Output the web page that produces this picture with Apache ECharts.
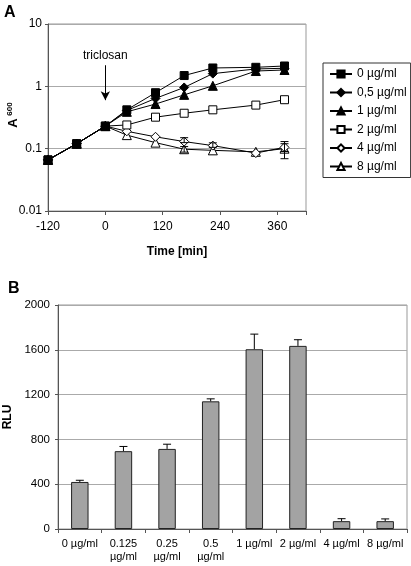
<!DOCTYPE html>
<html>
<head>
<meta charset="utf-8">
<script src="https://cdn.jsdelivr.net/npm/echarts@6/dist/echarts.min.js"></script>
<style>
html,body{margin:0;padding:0;background:#fff;}
#c{width:411px;height:566px;}
</style>
</head>
<body>
<div id="c"></div>
<script>
// ---- Panel A data ----
var times = [-120, -60, 0, 45, 105, 165, 225, 315, 375];
var c0  = [0.066, 0.12, 0.23, 0.42, 0.79, 1.49, 1.97, 2.02, 2.12];
var c05 = [0.066, 0.12, 0.23, 0.41, 0.64, 0.96, 1.60, 1.90, 1.95];
var c1  = [0.066, 0.12, 0.23, 0.39, 0.52, 0.73, 1.02, 1.76, 1.83];
var c2  = [0.066, 0.12, 0.23, 0.24, 0.32, 0.37, 0.42, 0.50, 0.61];
var c4  = [0.066, 0.12, 0.23, 0.19, 0.155, 0.13, 0.112, 0.085, 0.105];
var c8  = [0.066, 0.12, 0.23, 0.165, 0.125, 0.098, 0.094, 0.089, 0.100];
var seriesNamesA = ['0 µg/ml', '0,5 µg/ml', '1 µg/ml', '2 µg/ml', '4 µg/ml', '8 µg/ml'];
// error bars: [time, low, high]
var errA = [[165, 0.125, 0.15], [165, 0.088, 0.108], [225, 0.105, 0.124], [375, 0.069, 0.13], [375, 0.09, 0.12]];
var xTicksA = [-120, 0, 120, 240, 360];
var arrowFromTo = [2.18, 0.6];

// ---- Panel B data ----
var catsB = ['0 µg/ml', '0.125\nµg/ml', '0.25\nµg/ml', '0.5\nµg/ml', '1 µg/ml', '2 µg/ml', '4 µg/ml', '8 µg/ml'];
var rlu = [420, 695, 715, 1140, 1605, 1635, 70, 70];
var rluErr = [15, 42, 42, 22, 135, 55, 22, 20];

var FONT = '"Liberation Sans", Arial, sans-serif';

function pairs(ys){ return times.map(function(t,i){ return [t, ys[i]]; }); }

var markerDefs = [
  {sym:'rect', size:8, fill:'#000'},
  {sym:'diamond', size:9, fill:'#000'},
  {sym:'triangle', size:9, fill:'#000'},
  {sym:'rect', size:8, fill:'#fff'},
  {sym:'diamond', size:9, fill:'#fff'},
  {sym:'triangle', size:9, fill:'#fff'}
];
var dataA = [c0, c05, c1, c2, c4, c8];

var lineSeries = dataA.map(function(ys, k){
  var m = markerDefs[k];
  var s = {
    name: seriesNamesA[k],
    type: 'line',
    xAxisIndex: 0, yAxisIndex: 0,
    data: pairs(ys),
    symbol: m.sym,
    symbolSize: m.size,
    showAllSymbol: true,
    lineStyle: {color:'#000', width:1},
    itemStyle: {color: m.fill, borderColor:'#000', borderWidth:1},
    emphasis: {disabled:true},
    z: 3 + (5-k),
    animation: false
  };
  if (k === 0) {
    s.markLine = {
      silent: true,
      symbol: ['none', 'arrow'],
      symbolSize: [7, 9],
      lineStyle: {color:'#000', width:1, type:'solid'},
      label: {show:true, position:'start', formatter:'triclosan', color:'#000', fontSize:12, fontFamily:FONT, distance:4},
      data: [[{coord:[0, arrowFromTo[0]]}, {coord:[0, arrowFromTo[1]]}]],
      animation: false
    };
  }
  return s;
});

var errSeriesA = {
  type: 'custom', xAxisIndex:0, yAxisIndex:0, silent:true, z:10,
  data: errA,
  renderItem: function(params, api){
    var lo = api.coord([api.value(0), api.value(1)]);
    var hi = api.coord([api.value(0), api.value(2)]);
    var w = 4;
    var st = {stroke:'#000', lineWidth:1};
    return {type:'group', children:[
      {type:'line', shape:{x1:lo[0], y1:lo[1], x2:hi[0], y2:hi[1]}, style:st},
      {type:'line', shape:{x1:lo[0]-w, y1:lo[1], x2:lo[0]+w, y2:lo[1]}, style:st},
      {type:'line', shape:{x1:hi[0]-w, y1:hi[1], x2:hi[0]+w, y2:hi[1]}, style:st}
    ]};
  },
  animation:false
};

var errSeriesB = {
  type: 'custom', xAxisIndex:1, yAxisIndex:1, silent:true, z:10,
  data: rlu.map(function(v,i){ return [i, v, v + rluErr[i]]; }),
  renderItem: function(params, api){
    var lo = api.coord([api.value(0), api.value(1)]);
    var hi = api.coord([api.value(0), api.value(2)]);
    var w = 4;
    var st = {stroke:'#000', lineWidth:1};
    return {type:'group', children:[
      {type:'line', shape:{x1:lo[0], y1:lo[1], x2:hi[0], y2:hi[1]}, style:st},
      {type:'line', shape:{x1:hi[0]-w, y1:hi[1], x2:hi[0]+w, y2:hi[1]}, style:st}
    ]};
  },
  animation:false
};

var chart = echarts.init(document.getElementById('c'), null, {renderer:'canvas'});
chart.setOption({
  animation: false,
  backgroundColor: '#fff',
  textStyle: {fontFamily: FONT, color:'#000'},
  graphic: [
    {type:'text', left:4, top:5, style:{text:'A', font:'bold 16px ' + FONT, fill:'#000'}},
    {type:'text', left:8, top:281, style:{text:'B', font:'bold 16px ' + FONT, fill:'#000'}},
    {type:'text', x:13, y:123, rotation:Math.PI/2,
      style:{text:'A', font:'bold 13px ' + FONT, fill:'#000', align:'center', verticalAlign:'middle'}},
    {type:'text', x:10, y:109, rotation:Math.PI/2,
      style:{text:'600', font:'bold 8px ' + FONT, fill:'#000', align:'center', verticalAlign:'middle'}}
  ],
  legend: {
    orient: 'vertical',
    left: 323, top: 63,
    width: 84,
    padding: [4, 4, 4, 6],
    borderColor: '#333', borderWidth: 1,
    itemWidth: 22, itemHeight: 9, itemGap: 4.5,
    textStyle: {fontSize:12, fontFamily:FONT, color:'#000', lineHeight:14, padding:[0,0,0,0]},
    data: seriesNamesA,
    selectedMode: false
  },
  grid: [
    {left:48, top:24, width:258, height:187, show:true, borderColor:'#999', borderWidth:1, backgroundColor:'transparent', containLabel:false, outerBoundsMode:'none'},
    {left:58, top:305, width:349, height:224, show:true, borderColor:'#999', borderWidth:1, backgroundColor:'transparent', containLabel:false, outerBoundsMode:'none'}
  ],
  xAxis: [
    {
      type:'value', gridIndex:0, min:-120, max:420, interval:120,
      axisLine:{show:true, onZero:false, lineStyle:{color:'#555'}},
      axisTick:{show:true, length:4, inside:false, lineStyle:{color:'#555'}},
      axisLabel:{fontSize:12, color:'#000', margin:10, fontFamily:FONT,
        formatter:function(v){ return xTicksA.indexOf(v) >= 0 ? String(v) : ''; }},
      splitLine:{show:false},
      name:'Time [min]', nameLocation:'middle', nameGap:35,
      nameTextStyle:{fontSize:12, fontWeight:'bold', color:'#000', fontFamily:FONT}
    },
    {
      type:'category', gridIndex:1, data:catsB,
      axisLine:{show:true, onZero:false, lineStyle:{color:'#555'}},
      axisTick:{show:true, length:4, lineStyle:{color:'#555'}},
      axisLabel:{fontSize:11, color:'#000', margin:8, lineHeight:13, interval:0, fontFamily:FONT},
      splitLine:{show:false}
    }
  ],
  yAxis: [
    {
      type:'log', gridIndex:0, min:0.01, max:10, logBase:10,
      axisLine:{show:true, onZero:false, lineStyle:{color:'#555'}},
      axisTick:{show:true, length:3, lineStyle:{color:'#555'}},
      axisLabel:{fontSize:12, color:'#000', margin:6, fontFamily:FONT,
        formatter:function(v){ return String(v); }},
      splitLine:{show:true, lineStyle:{color:'#aaa', width:1}}
    },
    {
      type:'value', gridIndex:1, min:0, max:2000, interval:400,
      axisLine:{show:true, onZero:false, lineStyle:{color:'#555'}},
      axisTick:{show:true, length:3, lineStyle:{color:'#555'}},
      axisLabel:{fontSize:11.5, color:'#000', margin:8, fontFamily:FONT,
        formatter:function(v){ return String(v); }},
      splitLine:{show:true, lineStyle:{color:'#aaa', width:1}},
      name:'RLU', nameLocation:'middle', nameGap:33, nameRotate:90,
      nameTextStyle:{fontSize:12, fontWeight:'bold', color:'#000', fontFamily:FONT}
    }
  ],
  series: lineSeries.concat([
    errSeriesA,
    {
      type:'bar', xAxisIndex:1, yAxisIndex:1, data:rlu,
      barWidth: '40%',
      itemStyle:{color:'#a3a3a3', borderColor:'#222', borderWidth:1},
      emphasis:{disabled:true},
      silent:true,
      animation:false
    },
    errSeriesB
  ])
});
</script>
</body>
</html>
